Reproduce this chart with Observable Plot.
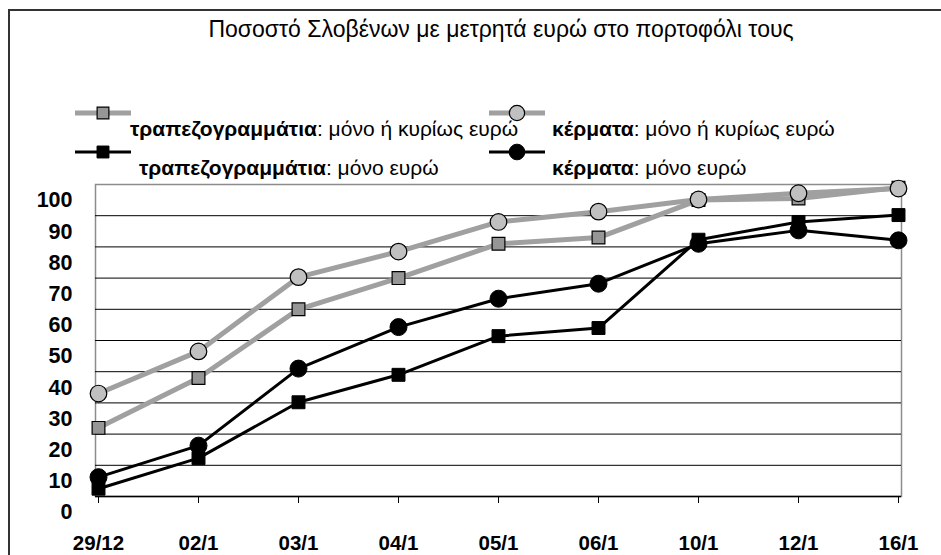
<!DOCTYPE html>
<html><head><meta charset="utf-8">
<script src="https://cdn.jsdelivr.net/npm/d3@7"></script>
<script src="https://cdn.jsdelivr.net/npm/@observablehq/plot@0.6"></script>
<style>
body{margin:0;background:#fff;font-family:"Liberation Sans",Arial,sans-serif;}
#wrap{position:relative;width:941px;height:555px;overflow:hidden;background:#fff;}
#border{position:absolute;left:8px;top:9px;width:960px;height:600px;border-top:2px solid #333;border-left:2px solid #333;}
#title{position:absolute;left:0;width:1002px;top:16px;text-align:center;font-size:23px;line-height:26px;color:#000;white-space:nowrap;}
.lg{position:absolute;white-space:nowrap;font-size:21px;color:#000;line-height:24px;}
.lg b{font-weight:bold;}
.sw{position:absolute;}
#chart{position:absolute;left:0;top:0;}
</style></head><body>
<div id="wrap">
 <div id="border"></div>
 <div id="chart"></div>
 <div id="title">Ποσοστό Σλοβένων με μετρητά ευρώ στο πορτοφόλι τους</div>
 <div id="legend"></div>
</div>
<script>
const dates = ["29/12","02/1","03/1","04/1","05/1","06/1","10/1","12/1","16/1"];
const notesMostly = [22, 38, 60, 70, 81, 83, 95, 95.5, 99];
const coinsMostly = [33, 46.5, 70.3, 78.5, 88, 91.3, 95.2, 97.2, 98.7];
const notesOnly = [2.5, 12.3, 30.2, 39, 51.4, 54, 82.3, 88, 90.2];
const coinsOnly = [6.2, 16.3, 41, 54.3, 63.4, 68.2, 81, 85.3, 82.1];
const yTicks = [0,10,20,30,40,50,60,70,80,90,100];
const seriesNames = [
  "τραπεζογραμμάτια: μόνο ή κυρίως ευρώ",
  "κέρματα: μόνο ή κυρίως ευρώ",
  "τραπεζογραμμάτια: μόνο ευρώ",
  "κέρματα: μόνο ευρώ"
];

const styles = [
  {line:"#a0a0a0", lw:5, symbol:"square", fill:"#969696", stroke:"#000", r:7.2, sw:1.2},
  {line:"#a0a0a0", lw:5, symbol:"circle", fill:"#c0c0c0", stroke:"#000", r:8.3, sw:1.2},
  {line:"#000", lw:3, symbol:"square", fill:"#000", stroke:"#000", r:7.3, sw:1},
  {line:"#000", lw:3, symbol:"circle", fill:"#000", stroke:"#000", r:8.5, sw:1}
];
const valueSets = [notesMostly, coinsMostly, notesOnly, coinsOnly];
const series = valueSets.map((vals, i) => dates.map((d, j) => ({date: d, value: vals[j], series: seriesNames[i]})));

const marks = [
  Plot.frame({stroke:"#8c8c8c", strokeWidth:1.5}),
  Plot.ruleY(yTicks.filter(d => d > 0 && d < 100), {stroke:"#000", strokeWidth:1}),
  Plot.ruleY([0], {stroke:"#000", strokeWidth:1.5}),
  Plot.axisX({tickSize:7, tickPadding:32, fontSize:20.5, fontWeight:"bold", stroke:"#000"}),
  Plot.text(yTicks, {y: d => d, text: d => String(d), frameAnchor:"left", dx:-23, dy:16, textAnchor:"end", fontSize:21.5, fontWeight:"bold", fill:"#000"})
];
series.forEach((data, i) => {
  const s = styles[i];
  marks.push(Plot.line(data, {x:"date", y:"value", stroke:s.line, strokeWidth:s.lw, strokeLinejoin:"round"}));
  marks.push(Plot.dot(data, {x:"date", y:"value", symbol:s.symbol, r:s.r, fill:s.fill, stroke:s.stroke, strokeWidth:s.sw}));
});

const chart = Plot.plot({
  width: 941, height: 555,
  marginLeft: 95, marginRight: 40, marginTop: 184, marginBottom: 59,
  style: {background:"transparent", fontFamily:"'Liberation Sans', Arial, sans-serif", color:"#000", overflow:"visible"},
  x: {type:"point", domain: dates, padding: 0, label: null},
  y: {domain:[0,100], axis:null, label:null},
  marks
});
document.getElementById("chart").appendChild(chart);

// legend
const legendPos = [
  {lx:75, ly:113, tx:130, ty:117},
  {lx:489, ly:113, tx:552, ty:117},
  {lx:75, ly:152, tx:139, ty:156},
  {lx:489, ly:152, tx:552, ty:156}
];
const legend = document.getElementById("legend");
seriesNames.forEach((name, i) => {
  const s = styles[i], p = legendPos[i];
  const w = 56, h = 22;
  const svg = d3.create("svg").attr("class","sw").attr("width", w).attr("height", h)
    .style("left", p.lx + "px").style("top", (p.ly - h/2) + "px");
  svg.append("line").attr("x1",0).attr("x2",w).attr("y1",h/2).attr("y2",h/2)
    .attr("stroke", s.line).attr("stroke-width", s.lw);
  const sym = d3.symbol(s.symbol === "square" ? d3.symbolSquare : d3.symbolCircle, Math.PI * s.r * s.r * 0.85)();
  svg.append("path").attr("d", sym).attr("transform", `translate(${w/2},${h/2})`)
    .attr("fill", s.fill).attr("stroke", s.stroke).attr("stroke-width", s.sw);
  legend.appendChild(svg.node());
  const [bold, rest] = name.split(":");
  const div = document.createElement("div");
  div.className = "lg";
  div.style.left = p.tx + "px";
  div.style.top = p.ty + "px";
  div.innerHTML = `<b>${bold}</b>:${rest}`;
  legend.appendChild(div);
});
</script>
</body></html>
